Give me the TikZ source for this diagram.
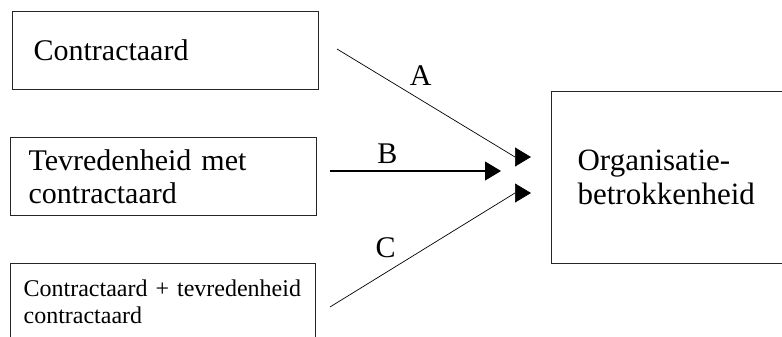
\documentclass[tikz,border=0pt]{standalone}
\usepackage{fontspec}
\setmainfont{Liberation Serif}
\usepackage{tikz}
\usetikzlibrary{arrows.meta, positioning}

\begin{document}
\begin{tikzpicture}[x=1pt, y=-1pt,
      box/.style={rectangle, draw=black!85, line width=1.2pt, anchor=north west, align=left, inner ysep=0pt, font=\fontsize{30}{33}\selectfont},
      pijl/.style={-{Triangle[length=16pt, width=19pt]}, line width=0.9pt},
      lbl/.style={font=\fontsize{30}{33}\selectfont, inner sep=2pt}]
    \useasboundingbox (0,0) rectangle (782,337);
    % three predictors on the left, outcome on the right
    \node[box, inner xsep=21pt, text width=264pt, minimum height=78pt] (ca) at (12,11) {Contractaard};
    \node[box, inner xsep=18pt, text width=270pt, minimum height=78pt] (tev) at (10,137) {Tevredenheid met\\contractaard};
    \node[box, inner xsep=13pt, text width=279pt, minimum height=77pt, font=\fontsize{24}{27}\selectfont] (comb) at (10,263) {Contractaard + tevredenheid\\contractaard};
    \node[box, inner xsep=26pt, text width=187pt, minimum height=172pt, font=\fontsize{31}{34}\selectfont] (ob) at (551,91) {Organisatie-\\betrokkenheid};
    % loose ends of the arrows; the heads all point straight right
    \coordinate (uitA) at (337,49); \coordinate (knikA) at (515,157); \coordinate (inA) at (531,157);
    \coordinate (uitB) at (330,171); \coordinate (inB) at (501,171);
    \coordinate (uitC) at (330,307); \coordinate (knikC) at (515,193); \coordinate (inC) at (531,193);
    \draw[pijl, line width=0.7pt] (uitA) -- node[lbl, pos=.47, above=12pt] (la) {A} (knikA) -- (inA);
    \draw[pijl, line width=1.1pt] (uitB) -- node[lbl, pos=.335, above=5pt] (lb) {B} (inB);
    \draw[pijl, line width=0.7pt] (uitC) -- node[lbl, pos=.30, above=13pt] (lc) {C} (knikC) -- (inC);
  \end{tikzpicture}
\end{document}
